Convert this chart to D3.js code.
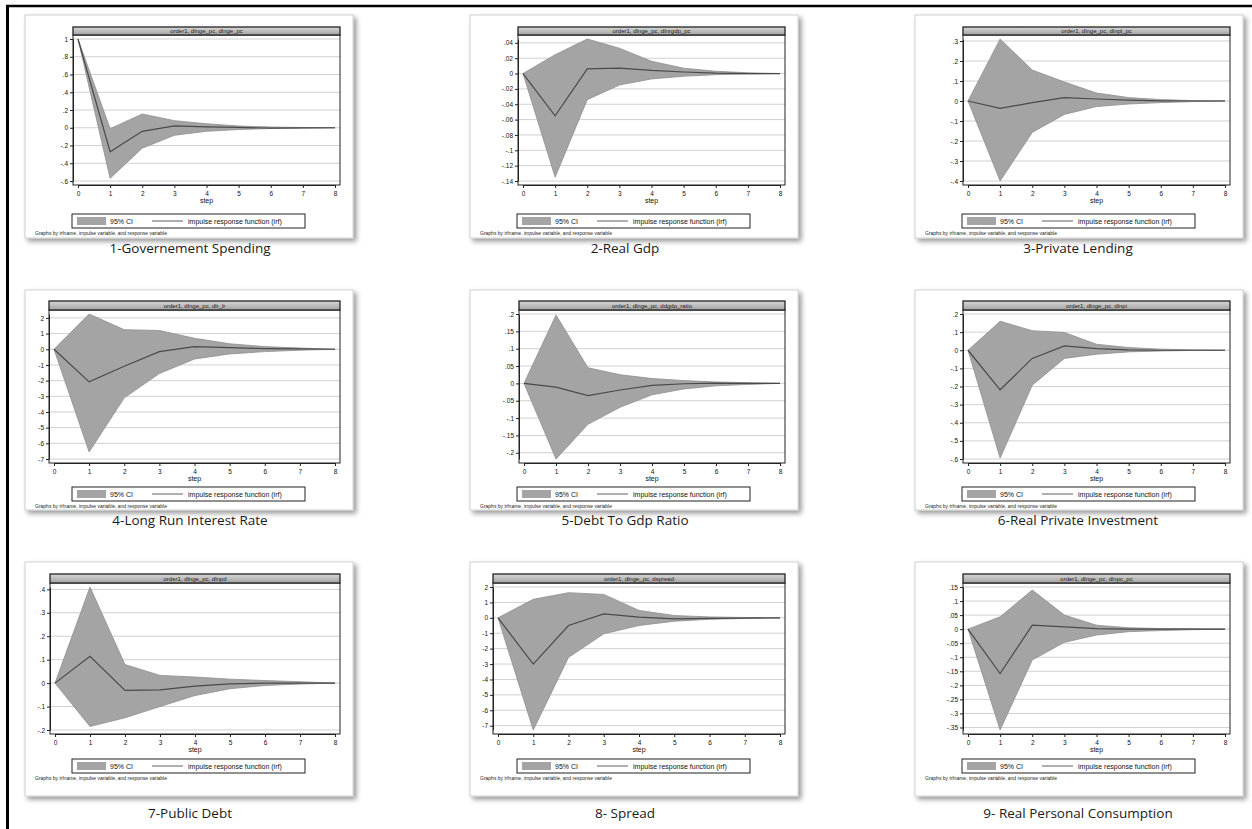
<!DOCTYPE html>
<html>
<head>
<meta charset="utf-8">
<script src="https://cdn.jsdelivr.net/npm/d3@7"></script>
<style>
  html, body { margin: 0; padding: 0; background: #fff; }
  svg { display: block; }
</style>
</head>
<body>
<div id="chart"></div>
<script>
// ---- data ----
const steps = [0, 1, 2, 3, 4, 5, 6, 7, 8];

const captions = [
  "1-Governement Spending", "2-Real Gdp", "3-Private Lending",
  "4-Long Run Interest Rate", "5-Debt To Gdp Ratio", "6-Real Private Investment",
  "7-Public Debt", "8- Spread", "9- Real Personal Consumption"
];

const stripTitles = [
  "order1, dlnge_pc, dlnge_pc", "order1, dlnge_pc, dlnrgdp_pc", "order1, dlnge_pc, dlnpl_pc",
  "order1, dlnge_pc, dlr_lr", "order1, dlnge_pc, ddgdp_ratio", "order1, dlnge_pc, dlnpi",
  "order1, dlnge_pc, dlnpd", "order1, dlnge_pc, dspread", "order1, dlnge_pc, dlnpc_pc"
];

// impulse response function
const irfLines = [
  [1, -0.27, -0.04, 0.02, 0.01, 0.004, -0.004, -0.002, 0],
  [0, -0.055, 0.006, 0.007, 0.004, 0.002, 0.0005, 0, 0],
  [0, -0.037, -0.008, 0.017, 0.01, 0.004, 0.001, 0, 0],
  [0, -2.08, -1.08, -0.15, 0.17, 0.1, 0.04, 0.02, 0],
  [0, -0.011, -0.035, -0.019, -0.006, -0.001, 0.001, 0, 0],
  [0, -0.218, -0.045, 0.024, 0.009, 0.002, 0, 0, 0],
  [0, 0.114, -0.031, -0.029, -0.013, -0.003, 0, 0, 0],
  [0, -3.0, -0.5, 0.26, 0.04, -0.07, -0.04, -0.02, 0],
  [0, -0.158, 0.014, 0.008, 0.002, 0, 0, 0, 0]
];

// 95% CI lower bound
const ciLower = [
  [1, -0.57, -0.23, -0.085, -0.04, -0.02, -0.008, -0.003, 0],
  [0, -0.135, -0.034, -0.015, -0.007, -0.0035, -0.0015, -0.0005, 0],
  [0, -0.40, -0.157, -0.067, -0.028, -0.015, -0.008, -0.003, 0],
  [0, -6.55, -3.1, -1.55, -0.62, -0.3, -0.15, -0.06, 0],
  [0, -0.218, -0.118, -0.069, -0.033, -0.016, -0.007, -0.003, 0],
  [0, -0.595, -0.193, -0.045, -0.022, -0.009, -0.004, -0.001, 0],
  [0, -0.185, -0.148, -0.1, -0.053, -0.024, -0.01, -0.004, 0],
  [0, -7.28, -2.57, -1.04, -0.5, -0.22, -0.1, -0.04, 0],
  [0, -0.359, -0.11, -0.047, -0.021, -0.009, -0.005, -0.002, 0]
];

// 95% CI upper bound
const ciUpper = [
  [1, -0.01, 0.155, 0.08, 0.045, 0.02, 0.008, 0.003, 0],
  [0, 0.0245, 0.045, 0.033, 0.016, 0.007, 0.003, 0.001, 0],
  [0, 0.31, 0.155, 0.095, 0.04, 0.017, 0.007, 0.002, 0],
  [0, 2.25, 1.25, 1.2, 0.7, 0.35, 0.17, 0.08, 0],
  [0, 0.197, 0.045, 0.025, 0.014, 0.008, 0.004, 0.002, 0],
  [0, 0.16, 0.108, 0.098, 0.033, 0.015, 0.006, 0.002, 0],
  [0, 0.41, 0.079, 0.033, 0.026, 0.017, 0.011, 0.006, 0],
  [0, 1.2, 1.63, 1.52, 0.48, 0.15, 0.06, 0.02, 0],
  [0, 0.044, 0.139, 0.05, 0.014, 0.005, 0.002, 0.001, 0]
];

// y axis tick values per graph
const yTicks = [
  [1, 0.8, 0.6, 0.4, 0.2, 0, -0.2, -0.4, -0.6],
  [0.04, 0.02, 0, -0.02, -0.04, -0.06, -0.08, -0.1, -0.12, -0.14],
  [0.3, 0.2, 0.1, 0, -0.1, -0.2, -0.3, -0.4],
  [2, 1, 0, -1, -2, -3, -4, -5, -6, -7],
  [0.2, 0.15, 0.1, 0.05, 0, -0.05, -0.1, -0.15, -0.2],
  [0.2, 0.1, 0, -0.1, -0.2, -0.3, -0.4, -0.5, -0.6],
  [0.4, 0.3, 0.2, 0.1, 0, -0.1, -0.2],
  [2, 1, 0, -1, -2, -3, -4, -5, -6, -7],
  [0.15, 0.1, 0.05, 0, -0.05, -0.1, -0.15, -0.2, -0.25, -0.3, -0.35]
];

const legendLabels = ["95% CI", "impulse response function (irf)"];
const noteText = "Graphs by irfname, impulse variable, and response variable";
const xTitle = "step";

// ---- layout ----
var W = 1252, H = 829;
var colLeft = [25, 470, 915], cardW = 328, captionX = [190, 625, 1078];
var rows = [
  {top: 15,  bottom: 238, stripTop: 27,  stripBot: 35,  plotBot: 185, legTop: 214, caption: 253},
  {top: 290, bottom: 510, stripTop: 301, stripBot: 310, plotBot: 463, legTop: 487, caption: 525},
  {top: 562, bottom: 796, stripTop: 574, stripBot: 583, plotBot: 734, legTop: 759, caption: 818}
];
var plotLeftOff = [48, 48, 48, 24, 49, 48, 25, 23, 48], plotRightOff = 315;
var statafont = "'Liberation Sans', Arial, sans-serif";

function stataFmt(v){
  var s = String(+v.toFixed(4));
  return s.replace(/^(-?)0\./, "$1.");
}

var svg = d3.select("#chart").append("svg")
  .attr("width", W).attr("height", H);

var defs = svg.append("defs");
var shadow = defs.append("filter").attr("id", "shadow")
  .attr("x", "-5%").attr("y", "-5%").attr("width", "115%").attr("height", "115%");
shadow.append("feDropShadow")
  .attr("dx", 3).attr("dy", 3).attr("stdDeviation", 2.5)
  .attr("flood-color", "#000").attr("flood-opacity", 0.4);

var grad = defs.append("linearGradient").attr("id", "strip")
  .attr("x1", 0).attr("y1", 0).attr("x2", 0).attr("y2", 1);
grad.append("stop").attr("offset", "0%").attr("stop-color", "#d8d8d8");
grad.append("stop").attr("offset", "100%").attr("stop-color", "#a2a2a2");

// outer frame of the screenshot
svg.append("line").attr("x1", 6).attr("x2", W).attr("y1", 6).attr("y2", 6)
  .attr("stroke", "#000").attr("stroke-width", 2.5);
svg.append("line").attr("x1", 7.5).attr("x2", 7.5).attr("y1", 5).attr("y2", H)
  .attr("stroke", "#000").attr("stroke-width", 3);

function drawPanel(i){
  var r = rows[Math.floor(i / 3)], cl = colLeft[i % 3];
  var g = svg.append("g");

  g.append("rect")
    .attr("x", cl).attr("y", r.top)
    .attr("width", cardW).attr("height", r.bottom - r.top)
    .attr("fill", "#fff").attr("stroke", "#cfcfcf")
    .attr("filter", "url(#shadow)");

  var pl = cl + plotLeftOff[i], pr = cl + plotRightOff;

  var allVals = yTicks[i].concat(ciLower[i], ciUpper[i], irfLines[i]);
  var y = d3.scaleLinear()
    .domain(d3.extent(allVals))
    .range([r.plotBot - 4, r.stripBot + 4]);
  var x = d3.scaleLinear()
    .domain(d3.extent(steps))
    .range([pl + 5, pr - 5]);

  // grid lines
  g.append("g").selectAll("line")
    .data(yTicks[i])
    .enter().append("line")
      .attr("x1", pl).attr("x2", pr)
      .attr("y1", function(d){ return y(d); })
      .attr("y2", function(d){ return y(d); })
      .attr("stroke", "#d0d0d0").attr("stroke-width", 1);

  // confidence band
  var band = d3.area()
    .x(function(d){ return x(d); })
    .y0(function(d, k){ return y(ciLower[i][k]); })
    .y1(function(d, k){ return y(ciUpper[i][k]); });
  g.append("path")
    .attr("d", band(steps))
    .attr("fill", "#a4a4a4")
    .attr("stroke", "#8e8e8e").attr("stroke-width", 0.8);

  var line = d3.line()
    .x(function(d){ return x(d); })
    .y(function(d, k){ return y(irfLines[i][k]); });
  g.append("path")
    .attr("d", line(steps))
    .attr("fill", "none")
    .attr("stroke", "#4a4a4a").attr("stroke-width", 1.2);

  // plot frame
  g.append("rect")
    .attr("x", pl).attr("y", r.stripBot)
    .attr("width", pr - pl).attr("height", r.plotBot - r.stripBot)
    .attr("fill", "none").attr("stroke", "#222").attr("stroke-width", 1);

  // axes
  var yAxis = d3.axisLeft(y).tickValues(yTicks[i]).tickFormat(stataFmt)
    .tickSizeInner(3).tickSizeOuter(0).tickPadding(2);
  var ya = g.append("g").attr("transform", "translate(" + pl + ",0)").call(yAxis);
  var xAxis = d3.axisBottom(x).tickValues(steps).tickFormat(d3.format("d"))
    .tickSizeInner(3).tickSizeOuter(0).tickPadding(3);
  var xa = g.append("g").attr("transform", "translate(0," + r.plotBot + ")").call(xAxis);
  [ya, xa].forEach(function(a){
    a.select(".domain").attr("stroke", "#222");
    a.selectAll(".tick line").attr("stroke", "#222");
    a.selectAll("text").attr("font-family", statafont).attr("font-size", 6.5).attr("fill", "#111");
  });

  g.append("text")
    .attr("x", (pl + pr) / 2).attr("y", r.plotBot + 18)
    .attr("text-anchor", "middle")
    .attr("font-family", statafont).attr("font-size", 7).attr("fill", "#111")
    .text(xTitle);

  // strip with graph title
  g.append("rect")
    .attr("x", pl).attr("y", r.stripTop)
    .attr("width", pr - pl).attr("height", r.stripBot - r.stripTop)
    .attr("fill", "url(#strip)").attr("stroke", "#222").attr("stroke-width", 1.3);
  g.append("text")
    .attr("x", (pl + pr) / 2).attr("y", r.stripBot - 2)
    .attr("text-anchor", "middle")
    .attr("font-family", statafont).attr("font-size", 6).attr("fill", "#222")
    .text(stripTitles[i]);

  // legend
  var lt = r.legTop;
  g.append("rect")
    .attr("x", cl + 47).attr("y", lt)
    .attr("width", 233).attr("height", 14)
    .attr("fill", "#fff").attr("stroke", "#222").attr("stroke-width", 1);
  g.append("rect")
    .attr("x", cl + 52).attr("y", lt + 3)
    .attr("width", 29).attr("height", 8)
    .attr("fill", "#a4a4a4");
  g.append("text")
    .attr("x", cl + 85).attr("y", lt + 10)
    .attr("font-family", statafont).attr("font-size", 7).attr("fill", "#111")
    .text(legendLabels[0]);
  g.append("line")
    .attr("x1", cl + 127).attr("x2", cl + 158)
    .attr("y1", lt + 7).attr("y2", lt + 7)
    .attr("stroke", "#7a7a7a").attr("stroke-width", 1.2);
  g.append("text")
    .attr("x", cl + 163).attr("y", lt + 10)
    .attr("font-family", statafont).attr("font-size", 7).attr("fill", "#111")
    .text(legendLabels[1]);

  g.append("text")
    .attr("x", cl + 10).attr("y", lt + 21)
    .attr("font-family", statafont).attr("font-size", 5).attr("fill", "#222")
    .text(noteText);

  // caption under the card
  svg.append("text")
    .attr("x", captionX[i % 3]).attr("y", r.caption)
    .attr("text-anchor", "middle")
    .attr("font-family", "'Open Sans', 'Noto Sans', sans-serif")
    .attr("font-size", 13.5).attr("fill", "#1a1a1a")
    .text(captions[i]);
}

for (let i = 0; i < captions.length; i++){
  drawPanel(i);
}
</script>
</body>
</html>
